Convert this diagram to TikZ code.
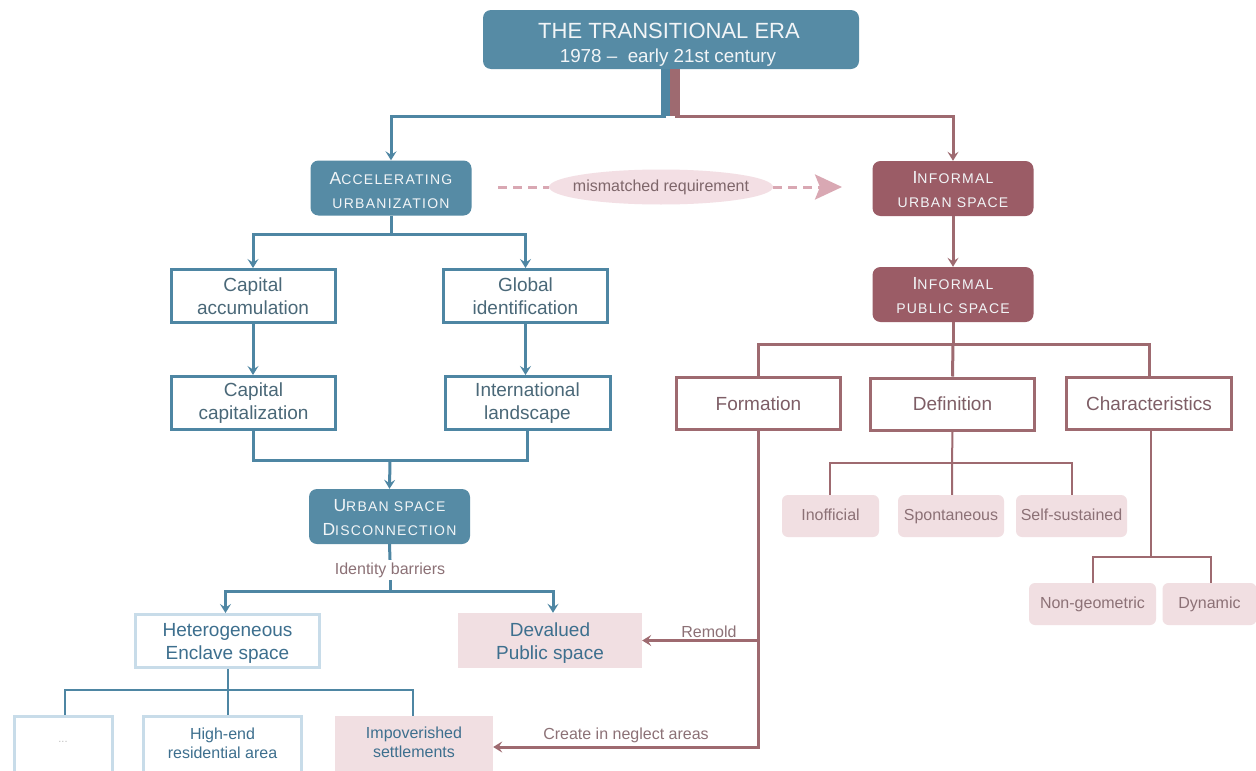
\documentclass[tikz,border=0pt]{standalone}
\usepackage{fontspec}
\setmainfont{Liberation Sans}
\newfontfamily\scfont[LetterSpace=9]{Liberation Sans}
\usetikzlibrary{arrows.meta,shapes.geometric,calc}

\definecolor{tealfill}{HTML}{568BA5}
\definecolor{tealline}{HTML}{4E86A3}
\definecolor{winefill}{HTML}{9B5C66}
\definecolor{wineline}{HTML}{9E6A70}
\definecolor{blush}{HTML}{F1DFE2}
\definecolor{paleblue}{HTML}{C8DCE9}
\definecolor{inkblue}{HTML}{3D6F8E}
\definecolor{slate}{HTML}{4A6878}
\definecolor{mauve}{HTML}{8C7176}
\definecolor{winetext}{HTML}{7E5E66}
\definecolor{dashpink}{HTML}{D9A8B3}
\definecolor{ovalpink}{HTML}{F3DFE4}
\definecolor{headtext}{HTML}{F2F5F7}

% small-caps imitation: large initial, smaller capitals
\newcommand\scword[2]{{\fontsize{17.5}{21}\selectfont\scfont #1}{\fontsize{14}{21}\selectfont\scfont #2}}
\newcommand\screst[1]{{\fontsize{14}{21}\selectfont\scfont #1}}
% struts that move a text block down (taller first line) or up (deeper last line)
\newcommand\lowerby[1]{\rule{0pt}{#1}}
\newcommand\raiseby[1]{\rule[-#1]{0pt}{#1}}

\tikzset{
  every node/.style={inner sep=0pt, align=center},
  fillbox/.style={rectangle, rounded corners=8pt, minimum width=161pt, minimum height=55pt,
    text=headtext, font=\fontsize{14}{24}\selectfont},
  tealbox/.style={fillbox, fill=tealfill},
  winebox/.style={fillbox, fill=winefill},
  tealframe/.style={rectangle, draw=tealline, line width=3pt, fill=white,
    minimum width=164pt, minimum height=53pt, text=slate, font=\fontsize{19}{23}\selectfont},
  wineframe/.style={rectangle, draw=wineline, line width=3pt, fill=white,
    minimum width=164pt, minimum height=52pt, text=winetext, font=\fontsize{19}{23}\selectfont},
  paleframe/.style={rectangle, draw=paleblue, line width=3pt, fill=white,
    minimum height=64pt, text=inkblue},
  pinkbox/.style={rectangle, rounded corners=6pt, fill=blush, minimum height=42pt,
    text height=11.5pt, text depth=3.5pt, text=mauve, font=\fontsize{16}{20}\selectfont},
  pinkplain/.style={rectangle, fill=blush, text=inkblue},
  tl/.style={draw=tealline, line width=3pt},
  tlthin/.style={draw=tealline, line width=2pt},
  wl/.style={draw=wineline, line width=3pt},
  wlthin/.style={draw=wineline, line width=2pt},
  tip/.style={-{Stealth[length=9pt,width=11pt,inset=3.5pt]}},
  label/.style={text=mauve, font=\fontsize{16}{20}\selectfont},
  headline/.style={anchor=base, text=headtext},
}

\begin{document}
\begin{tikzpicture}[x=1pt,y=-1pt]
\clip (0,0) rectangle (1256,771);
\fill[white] (0,0) rectangle (1256,771);

% ---- header ----
\node[tealbox, minimum width=376pt, minimum height=59pt] (top) at (671,39.5) {};
\node[headline, font=\fontsize{22}{26}\selectfont] (toptitle) at (669,38) {THE TRANSITIONAL ERA};
\node[headline, font=\fontsize{18.8}{22}\selectfont] (topyears) at (668,62) {1978 –\ \ early 21st century};

% two-coloured stem under the header
\coordinate (stemT) at (665.5,116);
\coordinate (stemW) at (675,116);
\draw[tealline, line width=9pt] (top.south -| stemT) -- (stemT);
\draw[wineline, line width=10pt] (top.south -| stemW) -- (stemW);

% ---- left branch ----
\node[tealbox] (accel) at (391,188) {\lowerby{17pt}\scword{A}{CCELERATING}\\\screst{URBANIZATION}};
\node[tealframe] (capacc) at (253,296) {Capital\\accumulation};
\node[tealframe] (globalid) at (525.5,296) {Global\\identification};
\node[tealframe] (capcap) at (253.5,403) {Capital\\capitalization};
\node[tealframe, minimum width=165pt] (intland) at (527.5,403) {International\\landscape};
\node[tealbox] (usd) at (389.5,516.5) {\lowerby{15pt}\scword{U}{RBAN SPACE}\\\scword{D}{ISCONNECTION}};
\node[label, minimum height=20pt] (ib) at (390,570) {Identity barriers};
\node[paleframe, minimum width=184pt, minimum height=53pt, font=\fontsize{19}{23}\selectfont]
  (hetero) at (227.5,641) {\lowerby{17.5pt}Heterogeneous\\Enclave space};
\node[pinkplain, minimum width=184pt, minimum height=55pt, font=\fontsize{19}{23}\selectfont]
  (devalued) at (550,640.5) {\lowerby{19pt}Devalued\\Public space};
\node[paleframe, minimum width=98pt, text=gray!50, font=\fontsize{11}{14}\selectfont]
  (dots) at (63,748) {...\raiseby{12pt}};
\node[paleframe, minimum width=158pt, font=\fontsize{16}{19}\selectfont]
  (highend) at (222.5,748) {High-end\\residential area\raiseby{10pt}};
\node[pinkplain, minimum width=158pt, minimum height=62pt, font=\fontsize{16}{19}\selectfont]
  (impov) at (414,747) {Impoverished\\settlements\raiseby{9pt}};

% ---- right branch ----
\node[winebox] (informal) at (953,188.5) {\lowerby{15pt}\scword{I}{NFORMAL}\\\screst{URBAN SPACE}};
\node[winebox] (ipublic) at (953,294.5) {\lowerby{15pt}\scword{I}{NFORMAL}\\\screst{PUBLIC SPACE}};
\node[wineframe] (formation) at (758.5,403.5) {Formation};
\node[wineframe] (definition) at (952.5,404) {Definition};
\node[wineframe, minimum width=165pt] (characteristics) at (1149,403.5) {Characteristics};
\node[pinkbox, minimum width=97pt] (inofficial) at (830.5,516) {Inofficial};
\node[pinkbox, minimum width=106pt] (spontaneous) at (951,516) {Spontaneous};
\node[pinkbox, minimum width=111pt] (selfsust) at (1071.5,516) {Self-sustained};
\node[pinkbox, minimum width=127pt] (nongeo) at (1092.5,604) {Non-geometric};
\node[pinkbox, minimum width=94pt] (dynamic) at (1209.5,604) {Dynamic};

% ---- mismatch link between the two branches ----
\node[ellipse, fill=ovalpink, inner xsep=-10pt, minimum width=224pt, minimum height=35pt,
  text=mauve!90!black, font=\fontsize{16}{20}\selectfont] (mis) at (661,187) {mismatched requirement};
\coordinate (misstart) at (498,187);
\coordinate (misend) at (842,187);
\draw[dashpink, line width=3pt, dash pattern=on 9pt off 6pt] (misstart) -- (mis.west);
\draw[dashpink, line width=3pt, dash pattern=on 9pt off 6pt,
  -{Stealth[length=27pt,width=25pt,inset=5pt]}] (mis.east) -- (misend);

% ---- connectors: left ----
\draw[tl, tip] (stemT) -| (accel.north);
\coordinate (aj) at (391,234);
\draw[tl] (accel.south) -- (aj);
\draw[tl, tip] (aj) -| (capacc.north);
\draw[tl, tip] (aj) -| (globalid.north);
\draw[tl, tip] (capacc.south) -- (capacc.south |- capcap.north);
\draw[tl, tip] (globalid.south) -- (globalid.south |- intland.north);
\coordinate (mj) at (390,460);
\draw[tl] (capcap.south) |- (mj) -| (intland.south);
\draw[tl, tip] (mj) -- (usd.north);
\draw[tl] (usd.south) -- (ib.north);
\coordinate (bj) at (390,591);
\draw[tl] (ib.south) -- (bj);
\draw[tl, tip] (bj) -| ([xshift=-2pt]hetero.north);
\draw[tl, tip] (bj) -| ([xshift=3pt]devalued.north);
\coordinate (hj) at (228,690);
\draw[tlthin] (hetero.south -| hj) -- (hj);
\draw[tlthin] ([xshift=2pt]dots.north) |- (hj) -| ([xshift=-1pt]impov.north);
\draw[tlthin] (hj) -- (hj |- highend.north);

% ---- connectors: right ----
\draw[wl, tip] (stemW) -| (informal.north);
\draw[wl, tip] (informal) -- (ipublic);
\coordinate (rj) at (953,344);
\draw[wl] (ipublic.south) -- (rj);
\draw[wl] (formation.north) |- (rj) -| (characteristics.north);
\draw[wl] (rj) -- (definition.north);
\coordinate (dj) at (952,463);
\draw[wlthin] ([xshift=-1pt]inofficial.north) |- (dj) -| (selfsust.north);
\draw[wlthin] (definition.south) -- (dj) -- (dj |- spontaneous.north);
\coordinate (cj) at (1151,557);
\draw[wlthin] (characteristics.south -| cj) -- (cj);
\draw[wlthin] (nongeo.north) |- (cj) -| ([xshift=1.5pt]dynamic.north);
\draw[wl, tip] (formation.south) |- (impov.east);
\draw[wl, tip] (formation.south |- devalued.east) -- (devalued.east);
\node[label] (remold) at (709,632) {Remold};
\node[label] (neglect) at (626,735) {Create in neglect areas};
\end{tikzpicture}
\end{document}
